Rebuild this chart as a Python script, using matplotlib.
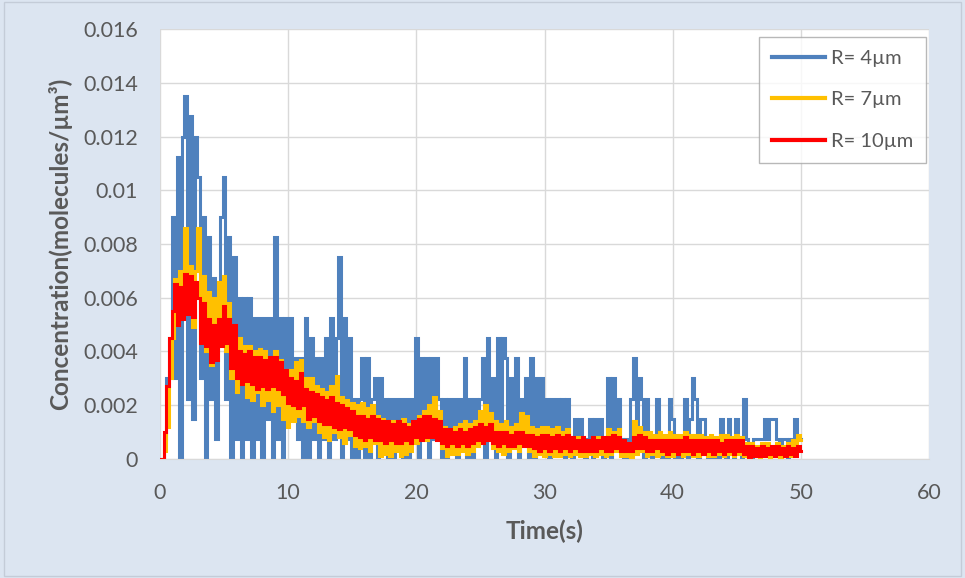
import numpy as np
import matplotlib
matplotlib.use("Agg")
import matplotlib.pyplot as plt
from matplotlib.patches import Rectangle

# Sampling interval of the simulated traces (seconds)
DT = 0.2

# R = 4 um receiver: molecule counts (one count = 0.00075 molecules/um^3)
counts_r4 = [
    0, 0, 1, 4, 6,      12, 4, 15, 0, 16,     18, 3, 17, 2, 16,     14, 4, 12, 0, 11,
    3, 9, 1, 7, 12,     14, 3, 11, 0, 10,     1, 8, 0, 8, 1,        8, 0, 7, 1, 7,
    0, 7, 2, 7, 0,      11, 1, 7, 0, 7,       2, 7, 2, 5, 1,        5, 0, 7, 0, 6,
    1, 5, 0, 5, 1,      6, 0, 7, 1, 6,        10, 0, 7, 1, 6,       0, 3, 0, 3, 5,
    0, 5, 0, 3, 4,      0, 4, 1, 3, 0,        3, 0, 3, 1, 3,        0, 3, 0, 3, 2,
    6, 0, 5, 1, 5,      0, 5, 1, 5, 3,        0, 3, 0, 3, 1,        3, 0, 3, 1, 5,
    0, 3, 0, 3, 1,      3, 5, 0, 6, 1,        4, 0, 6, 1, 6,        5, 0, 4, 1, 5,
    0, 3, 1, 4, 0,      5, 0, 4, 1, 4,        1, 3, 0, 3, 1,        3, 1, 3, 0, 3,
    1, 0, 2, 1, 2,      1, 0, 1, 2, 0,        2, 1, 2, 0, 1,        4, 0, 4, 1, 3,
    1, 0, 1, 0, 3,      5, 1, 4, 3, 0,        3, 1, 0, 1, 3,        1, 0, 1, 0, 3,
    2, 0, 1, 0, 1,      3, 0, 2, 4, 3,        0, 2, 2, 1, 0,        1, 0, 1, 0, 2,
    1, 0, 2, 1, 0,      2, 1, 0, 3, 1,        0, 0, 1, 1, 1,        1, 2, 1, 2, 2,
    2, 1, 0, 1, 1,      0, 1, 1, 2, 1,        1,
]
COUNT_UNIT = 0.00075

# R = 7 um and R = 10 um receivers, in units of 1e-4 molecules/um^3
conc_r7 = [
    0, 0, 3, 12, 30,    45, 67, 50, 70, 60,   86, 55, 72, 49, 70,   86, 45, 68, 40, 62,
    35, 60, 40, 66, 45, 68, 40, 58, 30, 45,   25, 45, 28, 42, 23,   42, 22, 40, 25, 41,
    20, 40, 22, 38, 18, 40, 20, 37, 15, 33,   12, 33, 14, 36, 16,   37, 14, 30, 12, 30,
    14, 27, 10, 26, 8,  25, 7, 27, 10, 31,    8, 23, 6, 22, 9,      21, 5, 20, 4, 21,
    5, 19, 3, 20, 6,    16, 1, 15, 2, 14,     1, 14, 3, 13, 1,      15, 2, 13, 3, 14,
    6, 16, 8, 18, 7,    20, 9, 23, 10, 18,    4, 12, 1, 11, 2,      12, 2, 13, 3, 14,
    2, 13, 3, 14, 5,    18, 6, 20, 7, 17,     4, 14, 3, 13, 2,      14, 3, 12, 4, 13,
    3, 17, 5, 16, 3,    12, 1, 11, 2, 12,     1, 12, 2, 11, 1,      12, 1, 10, 2, 11,
    1, 8, 2, 8, 1,      8, 1, 7, 2, 8,        1, 8, 2, 7, 1,        11, 2, 10, 3, 11,
    1, 7, 1, 6, 0,      14, 2, 12, 3, 10,     1, 10, 2, 9, 1,       10, 2, 9, 1, 10,
    1, 9, 2, 9, 1,      10, 2, 9, 1, 9,       1, 9, 2, 8, 1,        9, 1, 8, 2, 9,
    1, 9, 2, 8, 1,      9, 2, 8, 1, 6,        0, 6, 1, 5, 0,        6, 1, 6, 0, 5,
    1, 6, 0, 5, 1,      6, 1, 7, 2, 9,        7,
]
conc_r10 = [
    0, 0, 10, 27, 45,   55, 65, 50, 64, 52,   69, 54, 68, 53, 66,   60, 43, 58, 42, 52,
    36, 50, 37, 52, 42, 57, 43, 52, 34, 50,   30, 40, 28, 39, 29,   40, 28, 38, 26, 38,
    27, 37, 26, 38, 27, 38, 26, 36, 24, 33,   21, 30, 20, 29, 19,   32, 20, 26, 15, 25,
    16, 24, 14, 23, 13, 22, 13, 23, 12, 21,   11, 20, 12, 19, 11,   18, 9, 16, 8, 16,
    7, 15, 8, 16, 7,    15, 7, 14, 6, 14,     7, 13, 6, 14, 6,      13, 7, 12, 6, 14,
    8, 15, 7, 16, 8,    16, 8, 15, 7, 14,     6, 11, 5, 11, 6,      10, 5, 11, 6, 10,
    5, 11, 6, 12, 7,    13, 6, 12, 7, 13,     6, 10, 5, 10, 6,      10, 5, 9, 5, 10,
    6, 10, 5, 9, 5,     9, 4, 8, 3, 9,        4, 9, 3, 8, 4,        9, 3, 8, 4, 9,
    3, 8, 4, 7, 3,      8, 3, 7, 3, 8,        3, 7, 4, 8, 3,        8, 3, 9, 4, 8,
    3, 7, 3, 6, 3,      8, 4, 9, 4, 8,        3, 7, 3, 7, 4,        7, 3, 7, 2, 7,
    3, 7, 2, 7, 3,      8, 3, 7, 2, 7,        3, 7, 2, 7, 3,        7, 2, 7, 3, 6,
    2, 7, 3, 7, 2,      7, 3, 7, 2, 5,        0, 5, 1, 4, 1,        5, 1, 4, 2, 5,
    1, 5, 2, 4, 1,      5, 2, 4, 1, 5,        3,
]
CONC_UNIT = 1e-4

series_labels = ["R= 4\u00b5m", "R= 7\u00b5m", "R= 10\u00b5m"]
series_colors = ["#4F81BD", "#FFC000", "#FF0000"]

x_ticks = [0, 10, 20, 30, 40, 50, 60]
y_ticks = [0, 0.002, 0.004, 0.006, 0.008, 0.010, 0.012, 0.014, 0.016]
y_tick_labels = ["0", "0.002", "0.004", "0.006", "0.008", "0.01", "0.012", "0.014", "0.016"]

plt.rcParams["font.family"] = ["Lato", "DejaVu Sans"]

t = np.arange(len(counts_r4)) * DT
y4 = np.array(counts_r4) * COUNT_UNIT
y7 = np.array(conc_r7) * CONC_UNIT
y10 = np.array(conc_r10) * CONC_UNIT

bg = "#DCE5F1"
fig = plt.figure(figsize=(9.65, 5.78), dpi=100, facecolor=bg)
fig.patches.append(Rectangle((0.004, 0.004), 0.992, 0.992, transform=fig.transFigure,
                             facecolor="none", edgecolor="#C4CCD8", lw=1.0))

ax = fig.add_axes([0.1658, 0.2059, 0.7969, 0.7439])
ax.set_facecolor("white")

for y, lab, col in zip([y4, y7, y10], series_labels, series_colors):
    ax.plot(t, y, color=col, lw=2.2, label=lab, drawstyle="steps-mid",
            solid_joinstyle="miter")

ax.set_xlim(0, 60)
ax.set_ylim(0, 0.016)
ax.set_xticks(x_ticks)
ax.set_xticklabels([str(v) for v in x_ticks])
ax.set_yticks(y_ticks)
ax.set_yticklabels(y_tick_labels)
ax.grid(True, color="#D9D9D9", lw=1.0)
ax.set_axisbelow(True)
for side in ["top", "right", "left"]:
    ax.spines[side].set_visible(False)
ax.spines["bottom"].set_color("#D9D9D9")
ax.tick_params(length=0, labelsize=15.5, labelcolor="#595959")
ax.tick_params(axis="y", pad=16)
ax.tick_params(axis="x", pad=17)

ax.set_xlabel("Time(s)", fontsize=17.5, fontweight="bold", color="#595959", labelpad=12)
ax.set_ylabel("Concentration(molecules/\u00b5m\u00b3)", fontsize=17.5, fontweight="bold",
              color="#595959", labelpad=8)

leg = ax.legend(loc="upper right", bbox_to_anchor=(0.9961, 0.9814), borderaxespad=0,
                frameon=True, fancybox=False, fontsize=14.5, handlelength=2.6,
                handletextpad=0.3, labelspacing=1.2, borderpad=0.65,
                labelcolor="#595959")
leg.get_frame().set_edgecolor("#A6A6A6")
leg.get_frame().set_linewidth(1.0)
for line in leg.get_lines():
    line.set_linewidth(3.0)

fig.savefig("out.png", dpi=100, facecolor=bg)
